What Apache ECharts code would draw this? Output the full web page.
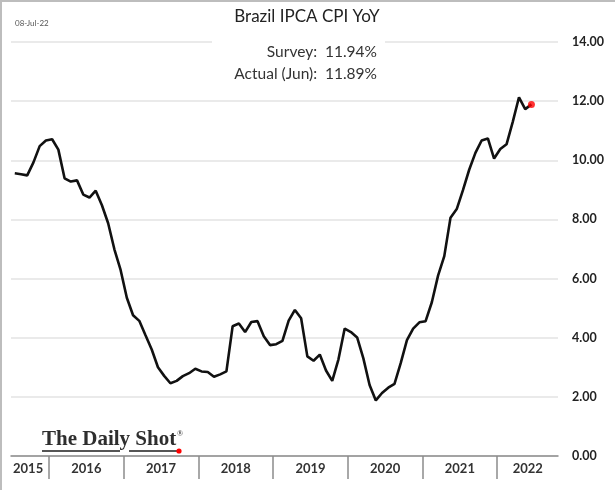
<!DOCTYPE html>
<html>
<head>
<meta charset="utf-8">
<script src="https://cdn.jsdelivr.net/npm/echarts@6/dist/echarts.min.js"></script>
<style>
html,body{margin:0;padding:0;background:#fff;}
#c{width:615px;height:490px;}
</style>
</head>
<body>
<div id="c"></div>
<script>
// Monthly data, Jul 2015 .. Jun 2022
const months = [
 '2015-07','2015-08','2015-09','2015-10','2015-11','2015-12',
 '2016-01','2016-02','2016-03','2016-04','2016-05','2016-06','2016-07','2016-08','2016-09','2016-10','2016-11','2016-12',
 '2017-01','2017-02','2017-03','2017-04','2017-05','2017-06','2017-07','2017-08','2017-09','2017-10','2017-11','2017-12',
 '2018-01','2018-02','2018-03','2018-04','2018-05','2018-06','2018-07','2018-08','2018-09','2018-10','2018-11','2018-12',
 '2019-01','2019-02','2019-03','2019-04','2019-05','2019-06','2019-07','2019-08','2019-09','2019-10','2019-11','2019-12',
 '2020-01','2020-02','2020-03','2020-04','2020-05','2020-06','2020-07','2020-08','2020-09','2020-10','2020-11','2020-12',
 '2021-01','2021-02','2021-03','2021-04','2021-05','2021-06','2021-07','2021-08','2021-09','2021-10','2021-11','2021-12',
 '2022-01','2022-02','2022-03','2022-04','2022-05','2022-06'
];
const cpiYoY = [
 9.56,9.53,9.49,9.93,10.48,10.67,
 10.71,10.36,9.39,9.28,9.32,8.84,8.74,8.97,8.48,7.87,6.99,6.29,
 5.35,4.76,4.57,4.08,3.60,3.00,2.71,2.46,2.54,2.70,2.80,2.95,
 2.86,2.84,2.68,2.76,2.86,4.39,4.48,4.19,4.53,4.56,4.05,3.75,
 3.78,3.89,4.58,4.94,4.66,3.37,3.22,3.43,2.89,2.54,3.27,4.31,
 4.19,4.01,3.30,2.40,1.88,2.13,2.31,2.44,3.14,3.92,4.31,4.52,
 4.56,5.20,6.10,6.76,8.06,8.35,8.99,9.68,10.25,10.67,10.74,10.06,
 10.38,10.54,11.30,12.13,11.73,11.89
];
const yearTicks = [2016,2017,2018,2019,2020,2021,2022];
const yearLabelPos = [2015.72,2016.5,2017.5,2018.5,2019.5,2020.5,2021.5,2022.41];
const yTickLabels = ['0.00','2.00','4.00','6.00','8.00','10.00','12.00','14.00'];
const titleText = 'Brazil IPCA CPI YoY';
const dateText = '08-Jul-22';
const surveyText = 'Survey:  11.94%';
const actualText = 'Actual (Jun):  11.89%';

function toX(m){ const p=m.split('-'); return +p[0] + (+p[1]-0.5)/12; }
const seriesData = months.map((m,i)=>[toX(m), cpiYoY[i]]);
const lastPoint = seriesData[seriesData.length-1];

const chart = echarts.init(document.getElementById('c'), null, {renderer:'canvas'});
chart.setOption({
  animation:false,
  backgroundColor:'#fff',
  grid:{left:11,right:57,top:42,bottom:34,containLabel:false},
  xAxis:{
    type:'value', min:2015.491, max:2022.814,
    splitLine:{show:false},
    axisLine:{show:true,onZero:false,lineStyle:{color:'#8c8c8c',width:1.5}},
    axisTick:{show:true,customValues:yearTicks,length:23,lineStyle:{color:'#8c8c8c',width:1.5}},
    axisLabel:{show:true,customValues:yearLabelPos,formatter:v=>String(Math.floor(v)),
      color:'#333',fontFamily:'Lato',fontWeight:'bold',fontSize:13,margin:6}
  },
  yAxis:{
    type:'value', position:'right', min:0, max:14, interval:2,
    axisLine:{show:false}, axisTick:{show:false},
    splitLine:{show:true,lineStyle:{color:'#e3e3e3',width:1.5}},
    axisLabel:{color:'#222',fontFamily:'Lato',fontWeight:'bold',fontSize:12.5,margin:14,
      formatter:v=>yTickLabels[Math.round(v/2)]}
  },
  series:[
    {type:'line',data:seriesData,showSymbol:false,symbol:'none',
     lineStyle:{color:'#111',width:2.6},z:3},
    {type:'scatter',data:[lastPoint],symbol:'circle',symbolSize:7,
     itemStyle:{color:'#ff0000'},z:4}
  ],
  graphic:[
    {type:'rect',shape:{x:0,y:0,width:615,height:2},style:{fill:'#bdbdbd'},z:10},
    {type:'rect',shape:{x:0,y:0,width:2,height:490},style:{fill:'#bdbdbd'},z:10},
    {type:'rect',shape:{x:212,y:38,width:173,height:8},style:{fill:'#fff'},z:1},
    {type:'text',x:307,y:17,style:{text:titleText,align:'center',verticalAlign:'middle',
      font:'17px Lato',fill:'#222'},z:10},
    {type:'text',x:15,y:23,style:{text:dateText,align:'left',verticalAlign:'middle',
      font:'8px Lato',fill:'#555'},z:10},
    {type:'text',x:377,y:52,style:{text:surveyText,align:'right',verticalAlign:'middle',
      font:'15.5px Lato',fill:'#333'},z:10},
    {type:'text',x:377,y:74,style:{text:actualText,align:'right',verticalAlign:'middle',
      font:'15.5px Lato',fill:'#333'},z:10},
    {type:'text',x:42,y:440,style:{text:'The Daily Shot',align:'left',verticalAlign:'middle',
      font:'bold 21px "Liberation Serif"',fill:'#2e2e2e'},z:10},
    {type:'text',x:177,y:434,style:{text:'®',align:'left',verticalAlign:'middle',
      font:'bold 8px "Liberation Serif"',fill:'#555'},z:10},
    {type:'rect',shape:{x:42,y:450,width:78,height:2},style:{fill:'#555'},z:10},
    {type:'rect',shape:{x:129,y:450,width:49,height:2},style:{fill:'#555'},z:10},
    {type:'circle',shape:{cx:179,cy:451,r:2.6},style:{fill:'#ff0000'},z:11}
  ]
});
</script>
</body>
</html>
